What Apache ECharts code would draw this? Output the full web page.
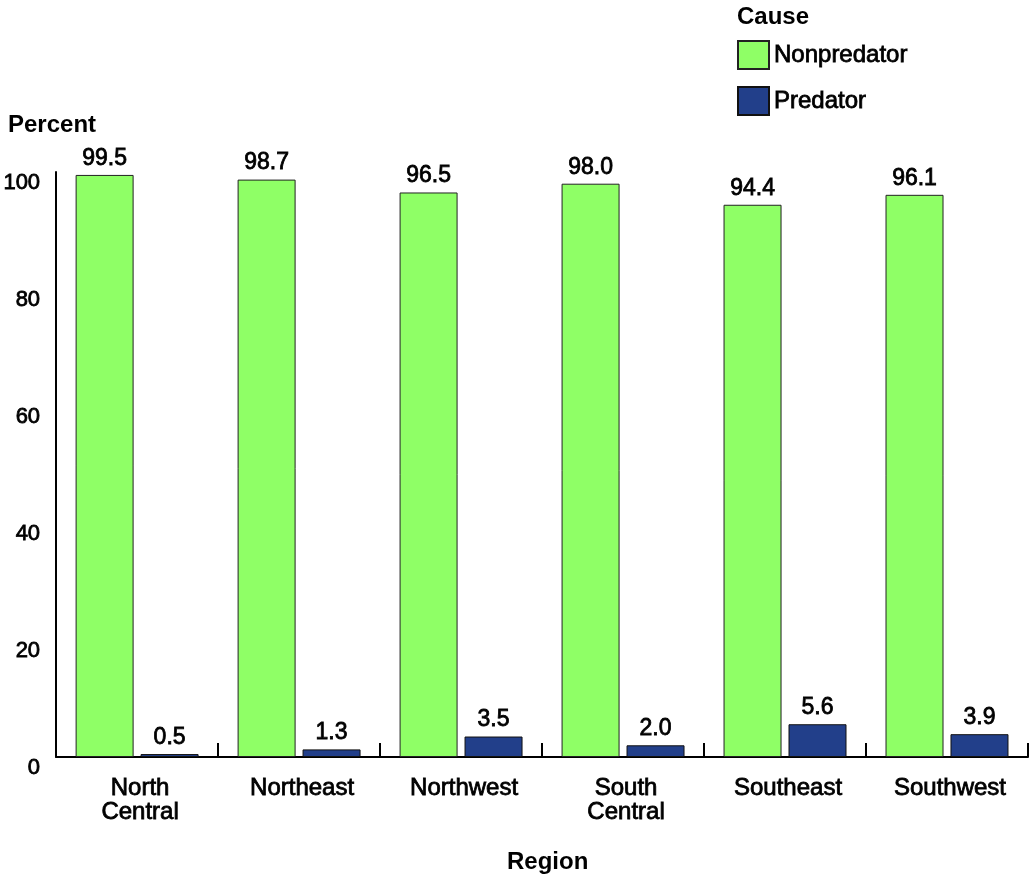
<!DOCTYPE html>
<html>
<head>
<meta charset="utf-8">
<script src="https://cdn.jsdelivr.net/npm/echarts@6/dist/echarts.min.js"></script>
<style>html,body{margin:0;padding:0;background:#fff}#c{width:1029px;height:882px}</style>
</head>
<body>
<div id="c"></div>
<script>
const regions = ['North\nCentral', 'Northeast', 'Northwest', 'South\nCentral', 'Southeast', 'Southwest'];
const nonpredator = [99.5, 98.7, 96.5, 98.0, 94.4, 96.1];
const predator = [0.5, 1.3, 3.5, 2.0, 5.6, 3.9];
const yTicks = [0, 20, 40, 60, 80, 100];

const FONT = 'Liberation Sans, Arial, sans-serif';
const chart = echarts.init(document.getElementById('c'));
const thick = { textBorderColor: '#000', textBorderWidth: 0.8 };
const lbl = Object.assign({
  show: true, position: 'top', distance: 5,
  fontFamily: FONT, fontSize: 23, color: '#000',
  formatter: p => p.value.toFixed(1)
}, thick);
const titleStyle = { fontFamily: FONT, fontSize: 24, fontWeight: 'bold', color: '#000' };
chart.setOption({
  animation: false,
  textStyle: { fontFamily: FONT },
  title: [
    { text: 'Cause', left: 737, top: 5, padding: 0, textStyle: titleStyle },
    { text: 'Percent', left: 8, top: 113, padding: 0, textStyle: titleStyle },
    { text: 'Region', left: 507, top: 850, padding: 0, textStyle: titleStyle }
  ],
  legend: {
    orient: 'vertical', left: 737, top: 40, padding: 0,
    icon: 'rect',
    itemWidth: 31, itemHeight: 28, itemGap: 16,
    textStyle: Object.assign({ fontFamily: FONT, fontSize: 24, color: '#000' }, thick),
    data: ['Nonpredator', 'Predator']
  },
  grid: { left: 56, right: 1, top: 172, bottom: 125, containLabel: false },
  xAxis: {
    type: 'category', data: regions,
    axisLine: { lineStyle: { color: '#000', width: 2 } },
    axisTick: { show: true, inside: true, length: 14, lineStyle: { color: '#000', width: 2 } },
    axisLabel: Object.assign({ fontFamily: FONT, fontSize: 24, color: '#000', margin: 19, lineHeight: 24, padding: [0, 0, 0, 6] }, thick)
  },
  yAxis: {
    type: 'value', min: 0, max: 100, interval: 20,
    axisLine: { show: true, lineStyle: { color: '#000', width: 2 } },
    axisTick: { show: false },
    splitLine: { show: false },
    axisLabel: Object.assign({
      fontFamily: FONT, fontSize: 22, color: '#000', margin: 16,
      verticalAlign: 'top',
      formatter: v => yTicks.includes(v) ? String(v) : ''
    }, thick)
  },
  series: [
    {
      name: 'Nonpredator', type: 'bar', data: nonpredator,
      barWidth: 58, barGap: '12%',
      itemStyle: { color: '#8FFF66', borderColor: '#222', borderWidth: 1 },
      label: lbl
    },
    {
      name: 'Predator', type: 'bar', data: predator,
      barWidth: 58, barGap: '12%',
      itemStyle: { color: '#223F8A', borderColor: '#111', borderWidth: 1 },
      label: lbl
    }
  ]
});
</script>
</body>
</html>
